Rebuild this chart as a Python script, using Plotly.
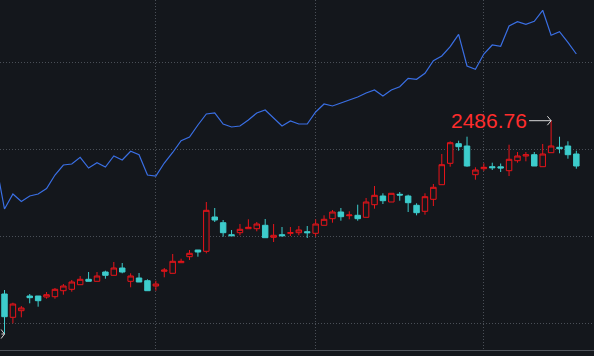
import plotly.graph_objects as go

# ---- data ----
day_index = list(range(69))
open_ = [2313.46, 2290.16, 2296.76, 2311.46, 2311.46, 2310.46, 2310.76, 2316.76, 2318.16, 2322.76,
         2328.16, 2326.16, 2335.46, 2332.16, 2339.46, 2326.16, 2329.46, 2326.76, 2321.46, 2336.16,
         2334.16, 2344.76, 2350.76, 2357.46, 2356.16, 2390.46, 2384.76, 2372.76, 2374.76, 2378.76,
         2378.76, 2382.16, 2370.16, 2372.76, 2374.16, 2374.76, 2375.76, 2374.16, 2382.16, 2388.76,
         2395.46, 2391.76, 2392.16, 2390.16, 2402.76, 2411.46, 2405.46, 2413.16, 2411.46, 2402.16,
         2396.16, 2408.16, 2422.76, 2444.16, 2463.76, 2461.46, 2432.76, 2438.76, 2440.76, 2440.66,
         2436.76, 2446.76, 2451.46, 2452.76, 2440.76, 2454.76, 2460.16, 2461.46, 2453.46]
close = [2290.76, 2303.46, 2299.46, 2309.76, 2306.76, 2312.76, 2318.16, 2321.46, 2325.46, 2328.16,
         2326.16, 2331.46, 2332.16, 2339.46, 2335.46, 2331.46, 2325.46, 2316.76, 2323.46, 2337.46,
         2346.16, 2346.16, 2354.16, 2355.46, 2397.16, 2387.46, 2374.76, 2371.76, 2378.16, 2380.16,
         2383.46, 2369.76, 2372.16, 2371.76, 2374.76, 2377.46, 2374.76, 2383.46, 2388.16, 2395.46,
         2390.76, 2392.46, 2388.76, 2405.46, 2412.16, 2406.76, 2414.16, 2412.46, 2404.76, 2394.76,
         2410.76, 2420.16, 2442.76, 2464.76, 2460.76, 2441.46, 2437.46, 2440.16, 2439.76, 2439.46,
         2448.16, 2451.46, 2452.76, 2441.46, 2453.46, 2461.46, 2458.76, 2452.76, 2441.46]
high = [2317.46, 2304.76, 2301.46, 2313.46, 2311.46, 2315.46, 2319.46, 2323.46, 2327.46, 2331.46,
        2335.46, 2335.46, 2336.76, 2345.46, 2344.46, 2334.16, 2334.46, 2328.16, 2326.76, 2339.46,
        2353.46, 2348.76, 2357.46, 2357.46, 2405.46, 2399.46, 2387.46, 2377.46, 2383.46, 2388.16,
        2385.46, 2388.46, 2383.46, 2380.46, 2380.46, 2381.46, 2381.46, 2388.16, 2392.16, 2397.46,
        2399.46, 2396.16, 2402.76, 2409.46, 2421.46, 2414.16, 2414.16, 2415.46, 2412.76, 2404.16,
        2414.16, 2423.46, 2453.46, 2466.16, 2466.76, 2470.76, 2440.16, 2444.16, 2444.76, 2443.96,
        2462.76, 2455.46, 2455.46, 2455.46, 2463.46, 2486.76, 2470.76, 2466.16, 2456.76]
low = [2273.46, 2284.16, 2290.16, 2304.16, 2300.76, 2308.76, 2308.76, 2312.76, 2315.76, 2322.76,
       2326.16, 2326.16, 2328.76, 2332.16, 2334.16, 2320.16, 2325.46, 2316.76, 2316.76, 2330.16,
       2334.16, 2344.76, 2347.46, 2350.76, 2354.16, 2385.46, 2370.76, 2371.76, 2372.16, 2378.76,
       2376.16, 2369.76, 2365.46, 2370.76, 2371.46, 2372.16, 2369.46, 2370.76, 2382.16, 2384.76,
       2386.76, 2388.16, 2386.76, 2390.16, 2398.76, 2403.46, 2405.46, 2406.76, 2395.46, 2392.16,
       2392.76, 2401.46, 2422.76, 2440.76, 2456.76, 2440.76, 2427.76, 2436.46, 2437.46, 2435.46,
       2431.46, 2444.76, 2446.16, 2441.46, 2440.76, 2454.76, 2454.16, 2448.76, 2438.76]

# comparison line (starts one session before the first candle)
line_index = list(range(-1, 69))
line_values = [2443.46, 2398.46, 2413.46, 2405.96, 2411.46, 2413.46, 2418.96, 2432.46, 2442.46, 2443.46,
               2450.16, 2439.46, 2444.76, 2440.46, 2451.46, 2447.46, 2456.16, 2452.76, 2432.46, 2431.46,
               2444.46, 2454.96, 2466.76, 2470.46, 2482.46, 2493.46, 2494.46, 2483.46, 2480.46, 2481.46,
               2487.46, 2494.46, 2497.46, 2489.46, 2481.46, 2486.46, 2483.46, 2483.46, 2495.46, 2503.46,
               2501.46, 2504.46, 2507.46, 2510.46, 2514.46, 2517.46, 2511.46, 2517.46, 2520.76, 2529.16,
               2528.16, 2534.16, 2546.76, 2551.46, 2560.76, 2573.16, 2541.46, 2538.16, 2553.46, 2562.46,
               2561.16, 2581.46, 2585.76, 2583.16, 2586.16, 2597.16, 2572.16, 2575.76, 2565.16, 2553.46]

month_start_index = [18, 37, 57]
grid_levels = [2284.16, 2371.16, 2458.16, 2544.76]

# ---- style ----
BG = "#14171c"
RED = "#e8141a"
CYAN = "#3dcccc"
BLUE = "#3a6fe4"
GRID = "#4a4f57"
ARROW = "#d8d8d8"

fig = go.Figure()
fig.add_trace(go.Candlestick(
    x=day_index, open=open_, high=high, low=low, close=close,
    increasing=dict(line=dict(color=RED, width=1), fillcolor=BG),
    decreasing=dict(line=dict(color=CYAN, width=1), fillcolor=CYAN),
    whiskerwidth=0, hoverinfo="skip", showlegend=False,
))
fig.add_trace(go.Scatter(
    x=line_index, y=line_values, mode="lines",
    line=dict(color=BLUE, width=1.2), hoverinfo="skip", showlegend=False,
))

# max marker with label; min marker (its label lies beyond the left edge, only the arrow shows)
i_max = max(range(len(high)), key=lambda i: high[i])
i_min = min(range(len(low)), key=lambda i: low[i])
fig.add_annotation(x=i_max, y=high[i_max], text=f"{high[i_max]:.2f}", showarrow=True, arrowhead=0,
                   arrowcolor=ARROW, arrowwidth=1, ax=-22, ay=0, xanchor="right",
                   font=dict(color="#ff2d2d", size=21, family="Liberation Sans, Arial"))
fig.add_annotation(x=i_min, y=low[i_min], text="", showarrow=True, arrowhead=0,
                   arrowcolor=ARROW, arrowwidth=1, ax=-22, ay=0)
for idx, val in ((i_max, high[i_max]), (i_min, low[i_min])):
    for dy in (-6, 6):
        fig.add_annotation(x=idx, y=val, text="", showarrow=True, arrowhead=0,
                           arrowcolor=ARROW, arrowwidth=1, ax=-5, ay=dy)

fig.update_layout(
    width=594, height=356,
    margin=dict(l=0, r=0, t=0, b=6),
    paper_bgcolor=BG, plot_bgcolor=BG,
    boxgap=0.35, boxgroupgap=0,
    xaxis=dict(range=[-0.535, 70.1], rangeslider=dict(visible=False),
               tickmode="array", tickvals=month_start_index, showticklabels=False,
               showgrid=True, gridcolor=GRID, griddash="1px,2px", gridwidth=1,
               zeroline=False, showline=True, linecolor="#50545b", linewidth=1, ticks=""),
    yaxis=dict(range=[2257.46, 2607.46], tickmode="array", tickvals=grid_levels,
               showticklabels=False, showgrid=True, gridcolor=GRID, griddash="1px,2px",
               gridwidth=1, zeroline=False, ticks=""),
)

fig.write_html("out.html", config={"staticPlot": True},
               post_script="document.body.style.margin='0';document.body.style.background='#14171c';")
